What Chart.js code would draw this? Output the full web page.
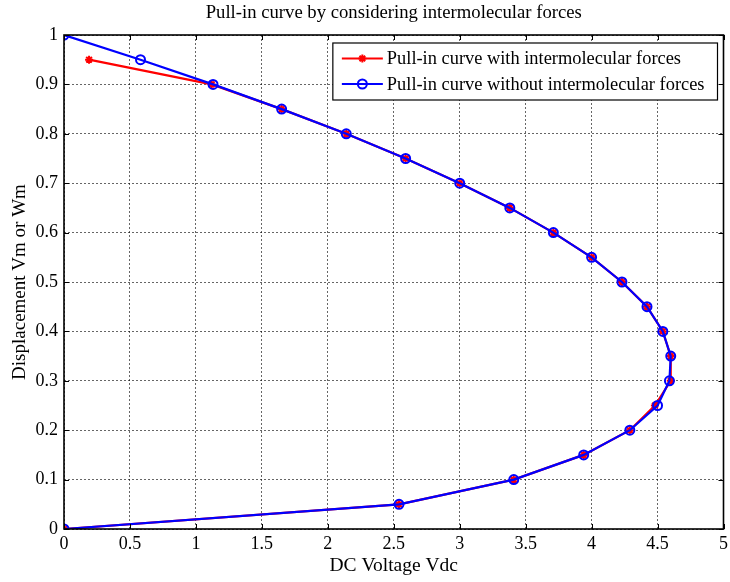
<!DOCTYPE html>
<html>
<head>
<meta charset="utf-8">
<script src="https://cdn.jsdelivr.net/npm/chart.js@4.4.0/dist/chart.umd.min.js"></script>
<style>
  html, body { margin: 0; padding: 0; background: #fff; }
  #wrap { width: 730px; height: 582px; }
</style>
</head>
<body>
<div id="wrap"><canvas id="pullIn"></canvas></div>
<script>
// Pull-in curve data: displacement levels and the DC voltage found at each
const dispWith = [0, 0.05, 0.1, 0.15, 0.2, 0.25, 0.3, 0.35, 0.4, 0.45, 0.5, 0.55, 0.6, 0.65, 0.7, 0.75, 0.8, 0.85, 0.9, 0.95];
const voltWith = [0, 2.54, 3.41, 3.94, 4.29, 4.48, 4.60, 4.60, 4.54, 4.42, 4.23, 4.00, 3.71, 3.38, 3.00, 2.59, 2.14, 1.65, 1.12, 0.19];

const dispWithout = [0, 0.05, 0.1, 0.15, 0.2, 0.25, 0.3, 0.35, 0.4, 0.45, 0.5, 0.55, 0.6, 0.65, 0.7, 0.75, 0.8, 0.85, 0.9, 0.95, 1.0];
const voltWithout = [0, 2.54, 3.41, 3.94, 4.29, 4.50, 4.59, 4.60, 4.54, 4.42, 4.23, 4.00, 3.71, 3.38, 3.00, 2.59, 2.14, 1.65, 1.13, 0.58, 0];

const xTicks = [0, 0.5, 1, 1.5, 2, 2.5, 3, 3.5, 4, 4.5, 5];
const yTicks = [0, 0.1, 0.2, 0.3, 0.4, 0.5, 0.6, 0.7, 0.8, 0.9, 1];

const chartTitle = 'Pull-in curve by considering intermolecular forces';

const FONT = "'Liberation Serif', 'Times New Roman', serif";

function toPoints(xs, ys) {
    return xs.map((x, i) => ({ x: x, y: ys[i] }));
}

// Title centred over the plot area rather than the whole canvas
const axesTitle = {
    id: 'axesTitle',
    afterDraw(chart) {
        const { ctx, chartArea: a } = chart;
        ctx.save();
        ctx.font = '18.7px ' + FONT;
        ctx.fillStyle = '#000';
        ctx.textAlign = 'center';
        ctx.textBaseline = 'middle';
        ctx.fillText(chartTitle, (a.left + a.right) / 2, a.top - 22);
        ctx.restore();
    }
};

// Box around the axes with inward tick marks on all four sides
const axesBox = {
    id: 'axesBox',
    afterDatasetsDraw(chart) {
        const { ctx, chartArea: a, scales } = chart;
        const len = 5;
        ctx.save();
        ctx.strokeStyle = '#000';
        ctx.lineWidth = 1;
        ctx.beginPath();
        xTicks.forEach(v => {
            const px = Math.round(scales.x.getPixelForValue(v)) + 0.5;
            ctx.moveTo(px, a.bottom); ctx.lineTo(px, a.bottom - len);
            ctx.moveTo(px, a.top); ctx.lineTo(px, a.top + len);
        });
        yTicks.forEach(v => {
            const py = Math.round(scales.y.getPixelForValue(v)) + 0.5;
            ctx.moveTo(a.left, py); ctx.lineTo(a.left + len, py);
            ctx.moveTo(a.right, py); ctx.lineTo(a.right - len, py);
        });
        ctx.stroke();
        ctx.lineWidth = 1.6;
        ctx.strokeRect(a.left, a.top, a.right - a.left, a.bottom - a.top);
        ctx.restore();
    }
};

// Boxed legend in the upper right of the plot
const boxLegend = {
    id: 'boxLegend',
    afterDraw(chart) {
        const { ctx, chartArea: a } = chart;
        const items = chart.data.datasets;
        ctx.save();
        ctx.font = '18.4px ' + FONT;
        const textW = Math.max(...items.map(d => ctx.measureText(d.label).width));
        const w = 54 + textW + 13;
        const h = 57;
        const x0 = a.right - 6 - w;
        const y0 = a.top + 8;
        ctx.fillStyle = '#fff';
        ctx.fillRect(x0, y0, w, h);
        ctx.strokeStyle = '#000';
        ctx.lineWidth = 1.2;
        ctx.strokeRect(x0, y0, w, h);
        items.forEach((d, i) => {
            const cy = y0 + 15.5 + i * 25.5;
            ctx.strokeStyle = d.borderColor;
            ctx.lineWidth = d.borderWidth;
            ctx.beginPath();
            ctx.moveTo(x0 + 9, cy);
            ctx.lineTo(x0 + 50, cy);
            ctx.stroke();
            ctx.strokeStyle = d.pointBorderColor;
            ctx.fillStyle = d.backgroundColor;
            ctx.lineWidth = d.pointBorderWidth;
            Chart.helpers.drawPoint(ctx, {
                pointStyle: d.pointStyle,
                radius: d.pointRadius,
                borderWidth: d.pointBorderWidth
            }, x0 + 29.5, cy);
            ctx.fillStyle = '#000';
            ctx.textBaseline = 'middle';
            ctx.textAlign = 'left';
            ctx.fillText(d.label, x0 + 54, cy + 1);
        });
        ctx.restore();
    }
};

const gridStyle = {
    color: 'rgba(0,0,0,0.6)',
    lineWidth: 1,
    drawTicks: false
};

new Chart(document.getElementById('pullIn'), {
    type: 'scatter',
    data: {
        datasets: [
            {
                label: 'Pull-in curve with intermolecular forces',
                data: toPoints(voltWith, dispWith),
                showLine: true,
                borderColor: '#ff0000',
                backgroundColor: '#ff0000',
                borderWidth: 2.2,
                pointStyle: 'star',
                pointRadius: 4,
                pointBorderWidth: 2,
                pointBorderColor: '#ff0000',
                order: 1
            },
            {
                label: 'Pull-in curve without intermolecular forces',
                data: toPoints(voltWithout, dispWithout),
                showLine: true,
                borderColor: '#0000ff',
                backgroundColor: 'rgba(0,0,0,0)',
                borderWidth: 2.2,
                pointStyle: 'circle',
                pointRadius: 4.5,
                pointBorderWidth: 2,
                pointBorderColor: '#0000ff',
                order: 0
            }
        ]
    },
    options: {
        responsive: true,
        maintainAspectRatio: false,
        animation: false,
        layout: { padding: { left: 0, right: 6, top: 35, bottom: 0 } },
        plugins: {
            legend: { display: false },
            tooltip: { enabled: false },
            title: { display: false }
        },
        scales: {
            x: {
                type: 'linear',
                min: 0,
                max: 5,
                afterFit(scale) {
                    scale.height = 53;
                    scale.paddingRight = 0;
                },
                afterBuildTicks(scale) { scale.ticks = xTicks.map(v => ({ value: v })); },
                border: { display: false, dash: [2, 2] },
                grid: gridStyle,
                ticks: {
                    color: '#000',
                    padding: 4,
                    maxRotation: 0,
                    autoSkip: false,
                    font: { family: FONT, size: 18 },
                    callback: v => String(v)
                },
                title: {
                    display: true,
                    text: 'DC Voltage Vdc',
                    color: '#000',
                    font: { family: FONT, size: 19.5 },
                    padding: { top: 0, bottom: 4.5 }
                }
            },
            y: {
                type: 'linear',
                min: 0,
                max: 1,
                afterFit(scale) { scale.width = 64; },
                afterBuildTicks(scale) { scale.ticks = yTicks.map(v => ({ value: v })); },
                border: { display: false, dash: [2, 2] },
                grid: gridStyle,
                ticks: {
                    color: '#000',
                    padding: 6,
                    autoSkip: false,
                    font: { family: FONT, size: 18 },
                    callback: v => String(v)
                },
                title: {
                    display: true,
                    text: 'Displacement Vm or Wm',
                    color: '#000',
                    font: { family: FONT, size: 19 },
                    padding: { top: 9, bottom: 0 }
                }
            }
        }
    },
    plugins: [axesBox, boxLegend, axesTitle]
});
</script>
</body>
</html>
